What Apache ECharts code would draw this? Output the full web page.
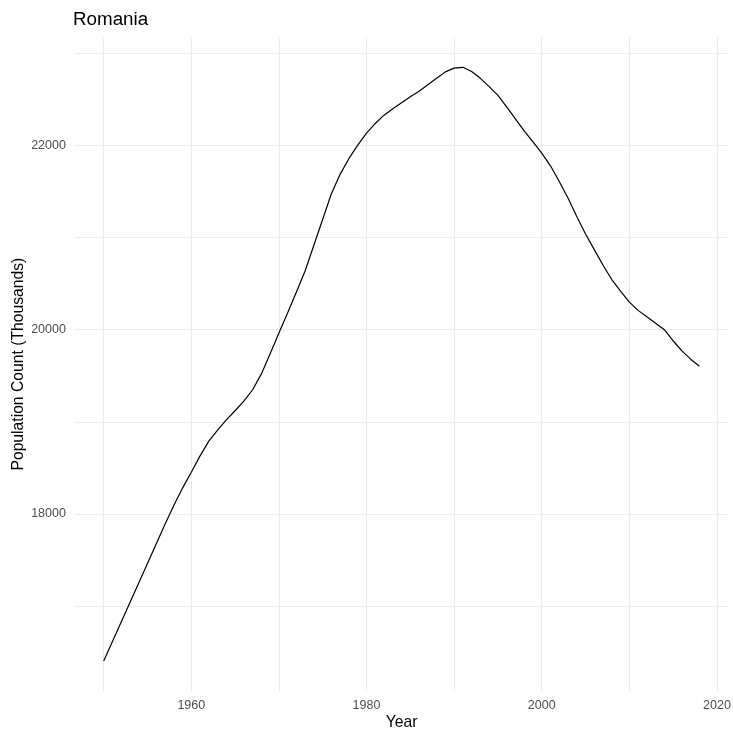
<!DOCTYPE html>
<html>
<head>
<meta charset="utf-8">
<script src="https://cdn.jsdelivr.net/npm/echarts@6/dist/echarts.min.js"></script>
<style>html,body{margin:0;padding:0;background:#fff}#c{width:733px;height:731px}</style>
</head>
<body>
<div id="c"></div>
<script>
const title = "Romania";
const xTitle = "Year";
const yTitle = "Population Count (Thousands)";
const years = [];
for (let y = 1950; y <= 2018; y++) years.push(y);
const population = [
  16402, 16614, 16826, 17038, 17250, 17462, 17675, 17887, 18090, 18280,
  18452, 18630, 18790, 18910, 19020, 19120, 19225, 19348, 19520, 19740,
  19965, 20185, 20410, 20640, 20920, 21200, 21480, 21690, 21860, 22005,
  22134, 22240, 22330, 22400, 22465, 22530, 22590, 22660, 22730, 22800,
  22841, 22850, 22804, 22730, 22640, 22545, 22420, 22290, 22160, 22040,
  21917, 21780, 21610, 21430, 21230, 21040, 20870, 20700, 20545, 20420,
  20300, 20210, 20140, 20070, 20000, 19880, 19770, 19680, 19604
];
const xGridValues = [1950, 1960, 1970, 1980, 1990, 2000, 2010, 2020];
const xTickLabels = [1960, 1980, 2000, 2020];
const yGridValues = [17000, 18000, 19000, 20000, 21000, 22000, 23000];
const yTickLabels = [18000, 20000, 22000];

const xMinD = Math.min(...years), xMaxD = Math.max(...years);
const yMinD = Math.min(...population), yMaxD = Math.max(...population);
const xPad = (xMaxD - xMinD) * 0.05, yPad = (yMaxD - yMinD) * 0.05;

const font = "'Liberation Sans', Arial, Helvetica, sans-serif";
const chart = echarts.init(document.getElementById('c'), null, {renderer: 'canvas'});
chart.setOption({
  animation: false,
  backgroundColor: '#ffffff',
  title: {
    text: title, left: 68, top: 5,
    textStyle: {fontFamily: font, fontSize: 18.8, fontWeight: 'normal', color: '#000000'}
  },
  grid: {left: 73.9, right: 3.8, top: 37.6, bottom: 40.3, containLabel: false, outerBoundsMode: 'none'},
  xAxis: {
    type: 'value',
    min: xMinD - xPad, max: xMaxD + xPad,
    name: xTitle, nameLocation: 'middle', nameGap: 23.5, nameMoveOverlap: false,
    nameTextStyle: {fontFamily: font, fontSize: 15.7, color: '#000000'},
    axisLine: {show: false},
    axisTick: {show: false, customValues: xGridValues},
    axisLabel: {customValues: xTickLabels, formatter: v => String(Math.round(v)), fontFamily: font, fontSize: 12.5, color: '#4D4D4D', margin: 8},
    splitLine: {show: true, lineStyle: {color: '#EBEBEB', width: 1.1}}
  },
  yAxis: {
    type: 'value',
    min: yMinD - yPad, max: yMaxD + yPad,
    name: yTitle, nameLocation: 'middle', nameGap: 47, nameRotate: 90, nameMoveOverlap: false,
    nameTextStyle: {fontFamily: font, fontSize: 15.7, color: '#000000'},
    axisLine: {show: false},
    axisTick: {show: false, customValues: yGridValues},
    axisLabel: {customValues: yTickLabels, formatter: v => String(Math.round(v)), fontFamily: font, fontSize: 12.5, color: '#4D4D4D', margin: 8},
    splitLine: {show: true, lineStyle: {color: '#EBEBEB', width: 1.1}}
  },
  series: [{
    type: 'line',
    data: years.map((y, i) => [y, population[i]]),
    showSymbol: false,
    smooth: false,
    lineStyle: {color: '#000000', width: 1.2},
    z: 3
  }]
});
</script>
</body>
</html>
